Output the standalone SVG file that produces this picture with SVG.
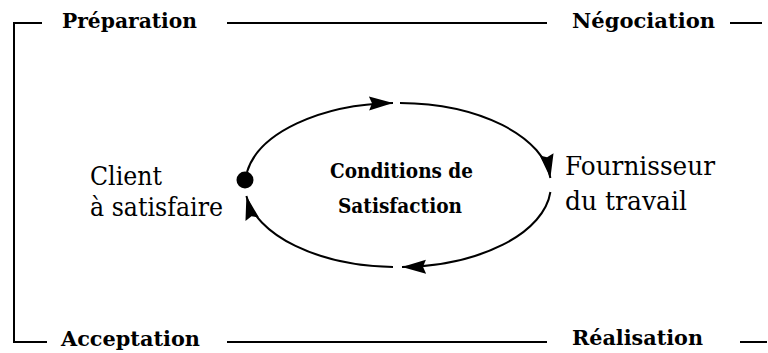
<svg xmlns="http://www.w3.org/2000/svg" width="768" height="353" viewBox="0 0 768 353">
  <style>
    .bg { fill: #ffffff; }
    .line { fill: none; stroke: #000000; stroke-width: 2; stroke-linecap: butt; }
    .phase { font-family: "DejaVu Serif", "Liberation Serif", serif; font-weight: bold; font-size: 20px; fill: #000000; }
    .party { font-family: "DejaVu Serif", "Liberation Serif", serif; font-size: 26px; fill: #000000; }
    .core { font-family: "DejaVu Serif", "Liberation Serif", serif; font-weight: bold; font-size: 20px; fill: #000000; }
  </style>
  <defs>
    <marker id="arrow" markerUnits="userSpaceOnUse" markerWidth="26" markerHeight="16" refX="24" refY="8" orient="auto">
      <path d="M0,1 L24,8 L0,15 L3,8 Z" fill="#000000"/>
    </marker>
  </defs>

  <rect class="bg" x="0" y="0" width="768" height="353"/>

  <!-- phase frame -->
  <g id="frame">
    <path class="line" d="M42,23 H14 V342 H47"/>
    <path class="line" d="M227,23 H547"/>
    <path class="line" d="M730,23 H762"/>
    <path class="line" d="M227,342 H547"/>
    <path class="line" d="M740,342 H767"/>
  </g>

  <g id="phase-preparation">
    <text class="phase" x="62" y="28" textLength="135" lengthAdjust="spacingAndGlyphs">Préparation</text>
  </g>
  <g id="phase-negociation">
    <text class="phase" x="572" y="28" textLength="143" lengthAdjust="spacingAndGlyphs">Négociation</text>
  </g>
  <g id="phase-acceptation">
    <text class="phase" x="61" y="346" textLength="139" lengthAdjust="spacingAndGlyphs">Acceptation</text>
  </g>
  <g id="phase-realisation">
    <text class="phase" x="572" y="345" textLength="131" lengthAdjust="spacingAndGlyphs">Réalisation</text>
  </g>

  <!-- loop connectors -->
  <g id="connectors">
    <path class="line" d="M247,172 A153,82 0 0 1 393,103" marker-end="url(#arrow)"/>
    <path class="line" d="M400,103 A153,82 0 0 1 550.4,178" marker-end="url(#arrow)"/>
    <path class="line" d="M550.4,192 A153,82 0 0 1 402,267" marker-end="url(#arrow)"/>
    <path class="line" d="M393,267 A153,82 0 0 1 246.4,196" marker-end="url(#arrow)"/>
  </g>

  <g id="client">
    <circle cx="245" cy="180" r="8.5" fill="#000000"/>
    <text class="party" x="90" y="185" textLength="72" lengthAdjust="spacingAndGlyphs">Client</text>
    <text class="party" x="90" y="216" textLength="133" lengthAdjust="spacingAndGlyphs">à satisfaire</text>
  </g>

  <g id="fournisseur">
    <text class="party" x="565" y="175" textLength="150" lengthAdjust="spacingAndGlyphs">Fournisseur</text>
    <text class="party" x="565" y="210" textLength="122" lengthAdjust="spacingAndGlyphs">du travail</text>
  </g>

  <g id="conditions">
    <text class="core" x="330" y="178" textLength="143" lengthAdjust="spacingAndGlyphs">Conditions de</text>
    <text class="core" x="338" y="213" textLength="124" lengthAdjust="spacingAndGlyphs">Satisfaction</text>
  </g>
</svg>
